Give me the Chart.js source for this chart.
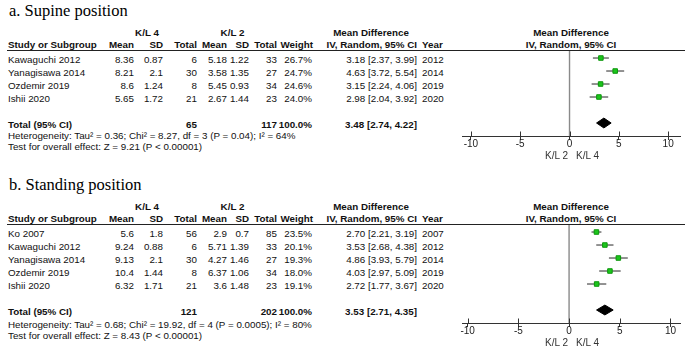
<!DOCTYPE html>
<html><head><meta charset="utf-8">
<script src="https://cdn.jsdelivr.net/npm/chart.js@4/dist/chart.umd.min.js"></script>
<style>
html,body{margin:0;padding:0;background:#fff;}
body{width:685px;height:348px;position:relative;overflow:hidden;font-family:"Liberation Sans",Arial,sans-serif;}
.t{position:absolute;white-space:nowrap;font-size:9.8px;line-height:12px;color:#111;}
.b{font-weight:bold;}
.ttl{position:absolute;white-space:nowrap;font-family:"Liberation Serif","Times New Roman",serif;font-size:16.5px;line-height:20px;color:#000;}
.rule{position:absolute;height:1px;background:#222;}
canvas{position:absolute;}
</style></head><body>
<script>
// ---------- Panel a: Supine position ----------
const studiesA  = ["Kawaguchi 2012","Yanagisawa 2014","Ozdemir 2019","Ishii 2020"];
const kl4MeanA  = [8.36, 8.21, 8.6, 5.65];
const kl4SdA    = [0.87, 2.1, 1.24, 1.72];
const kl4NA     = [6, 30, 8, 21];
const kl2MeanA  = [5.18, 3.58, 5.45, 2.67];
const kl2SdA    = [1.22, 1.35, 0.93, 1.44];
const kl2NA     = [33, 27, 34, 23];
const weightA   = [26.7, 24.7, 24.6, 24.0];
const mdA       = [3.18, 4.63, 3.15, 2.98];
const loA       = [2.37, 3.72, 2.24, 2.04];
const hiA       = [3.99, 5.54, 4.06, 3.92];
const yearA     = [2012, 2014, 2019, 2020];
const totalNA   = [65, 117];
const pooledA   = [3.48, 2.74, 4.22];
const hetA  = "Heterogeneity: Tau\u00B2 = 0.36; Chi\u00B2 = 8.27, df = 3 (P = 0.04); I\u00B2 = 64%";
const testA = "Test for overall effect: Z = 9.21 (P < 0.00001)";

// ---------- Panel b: Standing position ----------
const studiesB  = ["Ko 2007","Kawaguchi 2012","Yanagisawa 2014","Ozdemir 2019","Ishii 2020"];
const kl4MeanB  = [5.6, 9.24, 9.13, 10.4, 6.32];
const kl4SdB    = [1.8, 0.88, 2.1, 1.44, 1.71];
const kl4NB     = [56, 6, 30, 8, 21];
const kl2MeanB  = [2.9, 5.71, 4.27, 6.37, 3.6];
const kl2SdB    = [0.7, 1.39, 1.46, 1.06, 1.48];
const kl2NB     = [85, 33, 27, 34, 23];
const weightB   = [23.5, 20.1, 19.3, 18.0, 19.1];
const mdB       = [2.70, 3.53, 4.86, 4.03, 2.72];
const loB       = [2.21, 2.68, 3.93, 2.97, 1.77];
const hiB       = [3.19, 4.38, 5.79, 5.09, 3.67];
const yearB     = [2007, 2012, 2014, 2019, 2020];
const totalNB   = [121, 202];
const pooledB   = [3.53, 2.71, 4.35];
const hetB  = "Heterogeneity: Tau\u00B2 = 0.68; Chi\u00B2 = 19.92, df = 4 (P = 0.0005); I\u00B2 = 80%";
const testB = "Test for overall effect: Z = 8.43 (P < 0.00001)";

const xTicks = [-10, -5, 0, 5, 10];
const axisLeftLabel = "K/L 2";
const axisRightLabel = "K/L 4";

// ---------- helpers ----------
function txt(s, x, yc, align, cls) {
  const d = document.createElement('div');
  d.className = 't ' + (cls || '');
  d.textContent = s;
  if (align === 'right') d.style.right = (685 - x) + 'px';
  else if (align === 'center') { d.style.left = (x - 150) + 'px'; d.style.width = '300px'; d.style.textAlign = 'center'; }
  else d.style.left = x + 'px';
  d.style.top = (yc - 6) + 'px';
  document.body.appendChild(d);
  return d;
}
const fmt2 = v => v.toFixed(2);
const ciText = (m, l, h) => fmt2(m) + " [" + fmt2(l) + ", " + fmt2(h) + "]";

const crossTicks = {
  id: 'crossTicks',
  afterDraw(chart) {
    const s = chart.scales.x, ctx = chart.ctx, y = chart.chartArea.bottom;
    ctx.save(); ctx.strokeStyle = '#333'; ctx.lineWidth = 1;
    s.ticks.forEach(t => {
      const px = Math.round(s.getPixelForValue(t.value)) + 0.5;
      ctx.beginPath(); ctx.moveTo(px, y - 4.5); ctx.lineTo(px, y); ctx.stroke();
    });
    ctx.restore();
  }
};

function panel(p) {
  const n = p.studies.length;
  const o = p.off;
  // title
  const ti = document.createElement('div');
  ti.className = 'ttl'; ti.textContent = p.title;
  ti.style.left = '9px'; ti.style.top = (o + 0.5) + 'px';
  document.body.appendChild(ti);
  // headers
  txt("K/L 4", 147, o + 32.5, 'center', 'b');
  txt("K/L 2", 232.5, o + 32.5, 'center', 'b');
  txt("Mean Difference", 371, o + 32.5, 'center', 'b');
  txt("Mean Difference", 571, o + 32.5, 'center', 'b');
  const h2 = o + 45;
  txt("Study or Subgroup", 8, h2, 'left', 'b');
  txt("Mean", 134, h2, 'right', 'b');
  txt("SD", 163, h2, 'right', 'b');
  txt("Total", 197, h2, 'right', 'b');
  txt("Mean", 227, h2, 'right', 'b');
  txt("SD", 249, h2, 'right', 'b');
  txt("Total", 277, h2, 'right', 'b');
  txt("Weight", 313, h2, 'right', 'b');
  txt("IV, Random, 95% CI", 417, h2, 'right', 'b');
  txt("Year", 422, h2, 'left', 'b');
  txt("IV, Random, 95% CI", 571, h2, 'center', 'b');
  const r = document.createElement('div');
  r.className = 'rule'; r.style.left = '7px'; r.style.width = '678px'; r.style.top = (o + 50) + 'px';
  document.body.appendChild(r);
  // rows
  for (let i = 0; i < n; i++) {
    const y = o + 58 + 13 * i + 1.5;
    txt(p.studies[i], 8, y, 'left');
    txt(String(p.m4[i]), 134, y, 'right');
    txt(String(p.s4[i]), 163, y, 'right');
    txt(String(p.n4[i]), 197, y, 'right');
    txt(String(p.m2[i]), 227, y, 'right');
    txt(String(p.s2[i]), 249, y, 'right');
    txt(String(p.n2[i]), 277, y, 'right');
    txt(p.w[i].toFixed(1) + "%", 312, y, 'right');
    txt(ciText(p.md[i], p.lo[i], p.hi[i]), 417, y, 'right');
    txt(String(p.year[i]), 422, y, 'left');
  }
  const ty = o + 58 + 13 * (n + 1) + 1.5;
  txt("Total (95% CI)", 8, ty, 'left', 'b');
  txt(String(p.tot[0]), 197, ty, 'right', 'b');
  txt(String(p.tot[1]), 277, ty, 'right', 'b');
  txt("100.0%", 312, ty, 'right', 'b');
  txt(ciText(p.pooled[0], p.pooled[1], p.pooled[2]), 417, ty, 'right', 'b');
  txt(p.het, 8, p.hetY, 'left');
  txt(p.test, 8, p.testY, 'left');

  // chart
  const cv = document.createElement('canvas');
  const cTop = o + 45, cH = 130;
  cv.width = 230; cv.height = cH;
  cv.style.left = '455px'; cv.style.top = cTop + 'px';
  cv.style.width = '230px'; cv.style.height = cH + 'px';
  document.body.appendChild(cv);
  const axisY = o + 58 + 13 * (n + 2);
  const yMin = -0.54, yMax = n + 2;
  const datasets = [];
  datasets.push({ data: [{x: 0, y: yMin}, {x: 0, y: yMax}], borderColor: '#8a8a8a', borderWidth: 1.4, pointRadius: 0, showLine: true, order: 5 });
  for (let i = 0; i < n; i++) {
    datasets.push({ data: [{x: p.lo[i], y: i}, {x: p.hi[i], y: i}], borderColor: '#4a4a4a', borderWidth: 1.2, pointRadius: 0, showLine: true, order: 4 });
  }
  datasets.push({ data: p.md.map((m, i) => ({x: m, y: i})), showLine: false, pointStyle: 'rect', pointRadius: 3.2,
    backgroundColor: '#1cc61c', borderColor: '#0c960c', borderWidth: 1, order: 1 });
  const dh = 0.38, yt = n + 1;
  datasets.push({ data: [{x: p.pooled[1], y: yt}, {x: p.pooled[0], y: yt - dh}, {x: p.pooled[2], y: yt}, {x: p.pooled[0], y: yt + dh}, {x: p.pooled[1], y: yt}],
    showLine: true, fill: 'shape', backgroundColor: '#000', borderColor: '#000', borderWidth: 1, pointRadius: 0, order: 2 });

  new Chart(cv, {
    type: 'line',
    data: { datasets },
    options: {
      responsive: false, animation: false, devicePixelRatio: 1,
      elements: { line: { tension: 0 } },
      layout: { padding: { top: 51 + (o) - cTop - 0, left: 7, right: p.padR, bottom: 0 } },
      plugins: { legend: { display: false }, tooltip: { enabled: false } },
      scales: {
        x: {
          type: 'linear', min: p.xmin, max: p.xmax, position: 'bottom',
          afterBuildTicks: s => { s.ticks = xTicks.map(v => ({ value: v })); },
          afterFit: s => { s.height = (cTop + cH) - axisY; },
          grid: { display: true, drawOnChartArea: false, drawTicks: true, tickLength: 4, color: '#333', lineWidth: 1 },
          border: { display: true, color: '#333', width: 1 },
          ticks: { padding: -1.5, color: '#222', font: { family: 'Liberation Sans', size: 10 }, maxRotation: 0, autoSkip: false,
                   callback: v => String(v) }
        },
        y: { type: 'linear', display: false, min: yMin, max: yMax, reverse: true }
      }
    },
    plugins: [crossTicks]
  });
  const ky = axisY + 20;
  const l1 = txt(axisLeftLabel, 568, ky, 'right'); l1.style.fontSize = '10px'; l1.style.color = '#333';
  const l2 = txt(axisRightLabel, 576, ky, 'left'); l2.style.fontSize = '10px'; l2.style.color = '#333';
}

panel({ title: "a. Supine position", off: 0, studies: studiesA, m4: kl4MeanA, s4: kl4SdA, n4: kl4NA,
  m2: kl2MeanA, s2: kl2SdA, n2: kl2NA, w: weightA, md: mdA, lo: loA, hi: hiA, year: yearA,
  tot: totalNA, pooled: pooledA, het: hetA, test: testA, hetY: 135.5, testY: 146.5,
  xmin: -10.9, xmax: 11.2, padR: 2 });
panel({ title: "b. Standing position", off: 174, studies: studiesB, m4: kl4MeanB, s4: kl4SdB, n4: kl4NB,
  m2: kl2MeanB, s2: kl2SdB, n2: kl2NB, w: weightB, md: mdB, lo: loB, hi: hiB, year: yearB,
  tot: totalNB, pooled: pooledB, het: hetB, test: testB, hetY: 324.5, testY: 335.5,
  xmin: -10.56, xmax: 10.94, padR: 0 });
</script>
</body></html>
